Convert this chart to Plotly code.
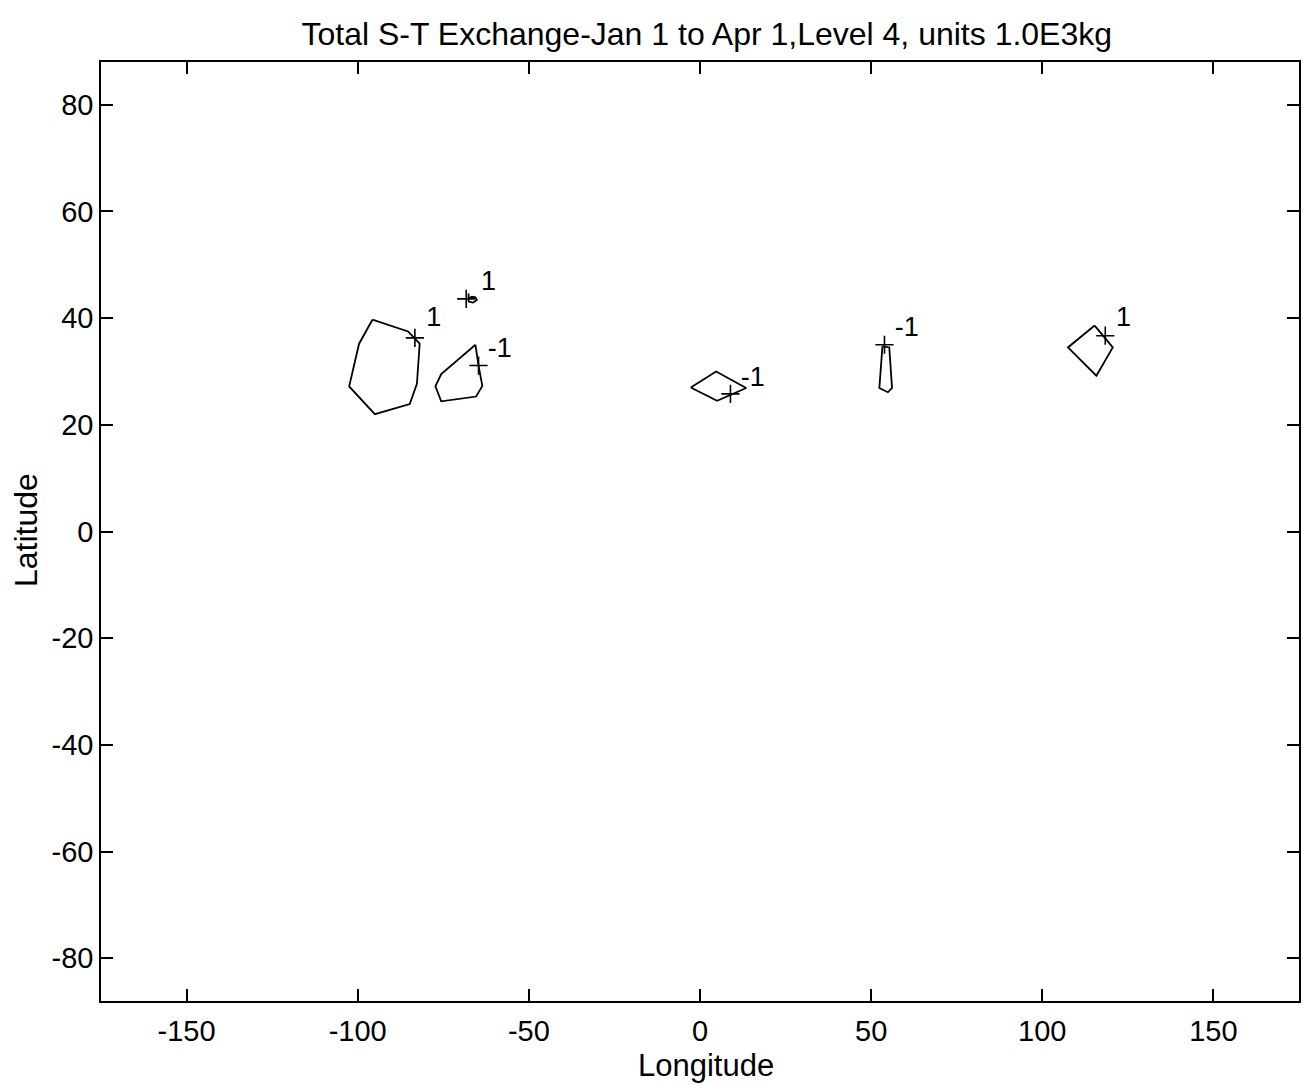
import plotly.graph_objects as go

# Contour outlines (longitude, latitude) of the S-T exchange field
c1_lon = [-95.7, -85.3, -81.9, -82.7, -84.8, -95.0, -102.5, -99.6, -95.7]
c1_lat = [39.7, 37.5, 35.2, 27.7, 23.9, 22.0, 27.2, 35.2, 39.7]

c2_lon = [-65.6, -64.7, -63.6, -65.4, -75.6, -77.3, -75.6, -65.6]
c2_lat = [35.0, 31.1, 27.3, 25.3, 24.4, 27.2, 29.5, 35.0]

c3_lon = [-67.6, -67.6, -66.3, -65.2, -65.6, -66.6, -67.6]
c3_lat = [44.6, 43.1, 42.9, 43.4, 43.9, 44.0, 43.7]

c4_lon = [-2.7, 4.7, 13.5, 5.0, -2.7]
c4_lat = [27.0, 30.0, 26.9, 24.5, 27.0]

c5_lon = [53.3, 55.3, 56.1, 54.9, 52.4, 53.3]
c5_lat = [34.7, 34.5, 26.9, 26.1, 26.9, 34.7]

c6_lon = [115.3, 120.6, 115.8, 107.5, 115.3]
c6_lat = [38.6, 34.5, 29.2, 34.5, 38.6]

contours_lon = [c1_lon, c2_lon, c3_lon, c4_lon, c5_lon, c6_lon]
contours_lat = [c1_lat, c2_lat, c3_lat, c4_lat, c5_lat, c6_lat]

# Contour-label anchor marks and the level values written beside them
mark_lon = [-83.3, -64.7, -68.3, 8.9, 53.9, 118.4]
mark_lat = [36.3, 31.1, 43.6, 25.8, 35.0, 36.7]
label_lon = [-80.0, -62.0, -64.0, 11.9, 56.9, 121.5]
label_lat = [39.7, 33.9, 46.5, 28.5, 37.9, 39.8]
label_text = ["1", "-1", "1", "-1", "-1", "1"]

x_ticks = [-150, -100, -50, 0, 50, 100, 150]
x_tick_text = ["-150", "-100", "-50", "0", "50", "100", "150"]
y_ticks = [-80, -60, -40, -20, 0, 20, 40, 60, 80]
y_tick_text = ["-80", "-60", "-40", "-20", "0", "20", "40", "60", "80"]

FONT = "Liberation Sans, Arial, Helvetica, sans-serif"

fig = go.Figure()

for lon, lat in zip(contours_lon, contours_lat):
    fig.add_trace(go.Scatter(
        x=lon, y=lat, mode="lines",
        line=dict(color="black", width=1.8),
        hoverinfo="skip", showlegend=False,
    ))

fig.add_trace(go.Scatter(
    x=mark_lon, y=mark_lat, mode="markers",
    marker=dict(symbol="cross-thin", size=13, line=dict(color="black", width=1.6)),
    hoverinfo="skip", showlegend=False,
))

fig.add_trace(go.Scatter(
    x=label_lon, y=label_lat, mode="text", text=label_text,
    textposition="middle right",
    textfont=dict(family=FONT, size=27, color="black"),
    hoverinfo="skip", showlegend=False,
))

axis_common = dict(
    showgrid=False, zeroline=False,
    showline=True, linecolor="black", linewidth=1.5, mirror="ticks",
    ticks="inside", ticklen=12, tickwidth=1.5, tickcolor="black",
    tickfont=dict(family=FONT, size=29, color="black"),
)

fig.update_layout(
    width=1304, height=1085,
    margin=dict(l=101, r=3, t=62, b=84),
    paper_bgcolor="white", plot_bgcolor="white",
    title=dict(
        text="Total S-T Exchange-Jan 1 to Apr 1,Level 4, units 1.0E3kg",
        font=dict(family=FONT, size=32, color="black"),
        x=0.542, xanchor="center", y=0.969, yanchor="middle",
    ),
    xaxis=dict(
        range=[-175, 175], tickvals=x_ticks, ticktext=x_tick_text,
        ticklabelstandoff=3,
        **axis_common,
    ),
    yaxis=dict(
        range=[-88, 88], tickvals=y_ticks, ticktext=y_tick_text,
        **axis_common,
    ),
    annotations=[
        dict(text="Longitude", xref="paper", yref="paper", x=0.505, y=-0.069,
             xanchor="center", yanchor="middle", showarrow=False,
             font=dict(family=FONT, size=31, color="black")),
        dict(text="Latitude", xref="paper", yref="paper", x=-0.063, y=0.501,
             xanchor="center", yanchor="middle", showarrow=False, textangle=-90,
             font=dict(family=FONT, size=32, color="black")),
    ],
)

fig.write_html("out.html")
